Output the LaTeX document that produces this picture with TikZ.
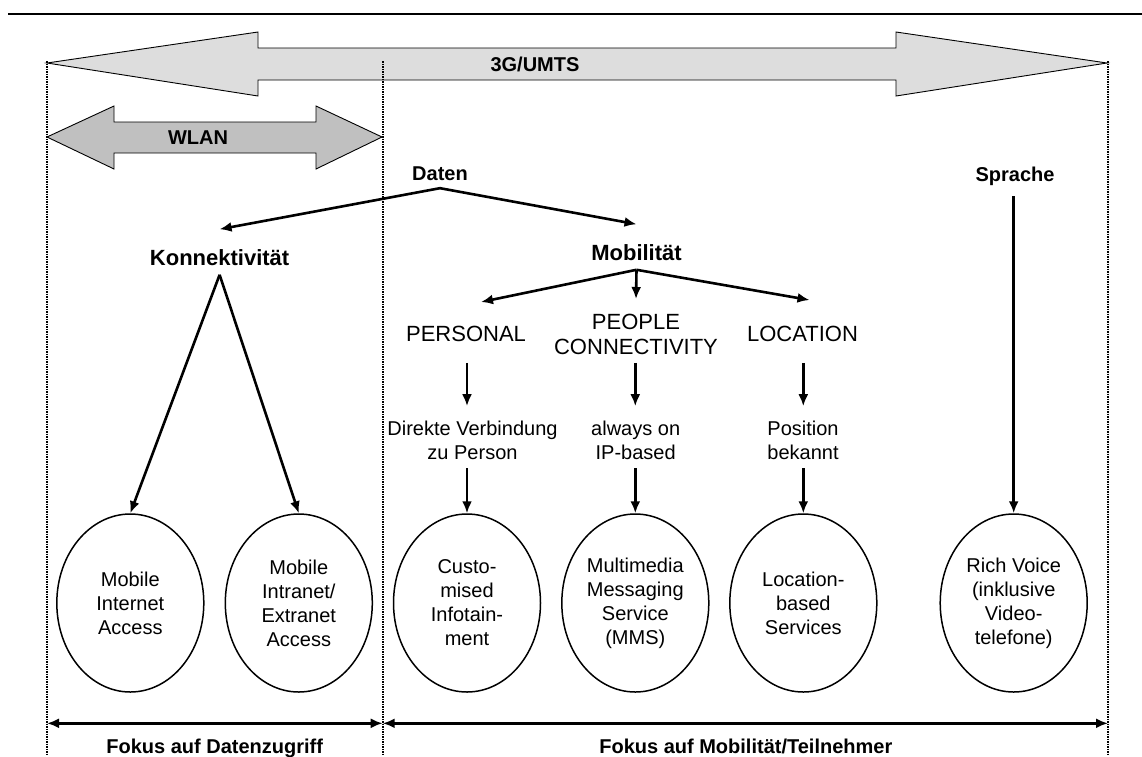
\documentclass[tikz,border=0pt]{standalone}
\usepackage{fontspec}
\setmainfont{Liberation Sans}
\usetikzlibrary{shapes.geometric,arrows.meta}
\definecolor{umtsgrey}{HTML}{DDDDDD}
\definecolor{wlangrey}{HTML}{C0C0C0}

\begin{document}
\begin{tikzpicture}[x=1pt, y=-1pt,
  every node/.style={inner sep=0pt, font=\fontsize{20}{24}\selectfont},
  arr/.style={line width=2.6pt, -{Latex[length=12pt,width=10pt]}},
  span/.style={line width=3pt, {Latex[length=12pt,width=10pt]}-{Latex[length=12pt,width=10pt]}},
  band/.style={draw, line width=0.9pt},
  border/.style={line width=2pt, dash pattern=on 1.5pt off 1pt},
  head/.style={font=\fontsize{20}{24}\selectfont\bfseries},
  topic/.style={font=\fontsize{22}{25}\selectfont\bfseries},
  cat/.style={font=\fontsize{22}{25}\selectfont, align=center},
  note/.style={align=center},
  service/.style={draw, ellipse, line width=1.5pt, minimum width=147pt,
    minimum height=178pt, align=center}]
\useasboundingbox (0,0) rectangle (1142,756);
\draw[line width=2pt] (8,13.5) -- (1142,13.5);
\filldraw[band, fill=umtsgrey] (47,63) -- (258,32) -- (258,48) -- (896,48) -- (896,32)
  -- (1107,63) -- (896,96) -- (896,80) -- (258,80) -- (258,96) -- cycle;
\filldraw[band, fill=wlangrey] (47,137) -- (114,106) -- (114,122) -- (316,122) -- (316,106)
  -- (382,137) -- (316,169) -- (316,153) -- (114,153) -- (114,169) -- cycle;
\node[head] (umts) at (535,64) {3G/UMTS};
\node[head] (wlan) at (198,138) {WLAN};
\foreach \x in {47,382.7,1108}
  \draw[border] (\x,61) -- (\x,756);
\node[head] (daten) at (440,174) {Daten};
\node[topic] (konn) at (219.6,258) {Konnektivität};
\node[topic] (mob) at (636.5,253) {Mobilität};
\node[head] (sprache) at (1015,176.5) {Sprache};
\node[cat] (pers) at (466,334) {PERSONAL};
\node[cat] (people) at (636,334) {PEOPLE\\CONNECTIVITY};
\node[cat] (loc) at (802.5,334) {LOCATION};
\node[note] (direkt) at (472.5,440.7) {Direkte Verbindung\\zu Person};
\node[note] (always) at (635.7,440.7) {always on\\IP-based};
\node[note] (pos) at (803,440.7) {Position\\bekannt};
\node[service] (mia) at (130.3,603) {Mobile\\Internet\\Access};
\node[service] (mie) at (298.8,603) {Mobile\\Intranet/\\Extranet\\Access};
\node[service] (cust) at (467,603) {Custo-\\mised\\Infotain-\\ment};
\node[service] (mms) at (635.3,603) {Multimedia\\Messaging\\Service\\(MMS)};
\node[service] (lbs) at (803.3,603) {Location-\\based\\Services};
\node[service] (voice) at (1013.7,603) {Rich Voice\\(inklusive\\Video-\\telefone)};
\draw[arr] ([yshift=-7pt]daten.south) -- ([yshift=20.5pt]konn.north);
\draw[arr] ([yshift=-7pt]daten.south) -- ([yshift=20.5pt]mob.north);
\draw[arr] ([yshift=-8.5pt]konn.south) -- (mia.north);
\draw[arr] ([yshift=-8.5pt]konn.south) -- (mie.north);
\draw[arr] ([yshift=-8.5pt]mob.south) -- ([xshift=15pt,yshift=24pt]pers.north);
\draw[arr] ([yshift=-8.5pt]mob.south) -- ([yshift=14.5pt]people.north);
\draw[arr] ([yshift=-8.5pt]mob.south) -- ([xshift=7pt,yshift=26pt]loc.north);
\foreach \src/\txt/\dst/\gap in {pers/direkt/cust/21pt, people/always/mms/8.5pt, loc/pos/lbs/21pt} {
  \draw[arr, shorten <=\gap, shorten >=15pt] (\src.south -| \dst.north) -- (\txt.north -| \dst.north);
  \draw[arr, shorten <=8pt] (\txt.south -| \dst.north) -- (\dst.north);}
\draw[arr, shorten <=10pt] (sprache.south -| voice.north) -- (voice.north);
\coordinate (fl) at (47,723.3);
\coordinate (fm) at (382.7,723.3);
\coordinate (fr) at (1108,723.3);
\draw[span] (fl) -- (fm);
\draw[span] (fm) -- (fr);
\node[head, anchor=base] (fdata) at (214.7,753.3) {Fokus auf Datenzugriff};
\node[head, anchor=base] (fmob) at (745.8,753.3) {Fokus auf Mobilität/Teilnehmer};
\end{tikzpicture}
\end{document}
